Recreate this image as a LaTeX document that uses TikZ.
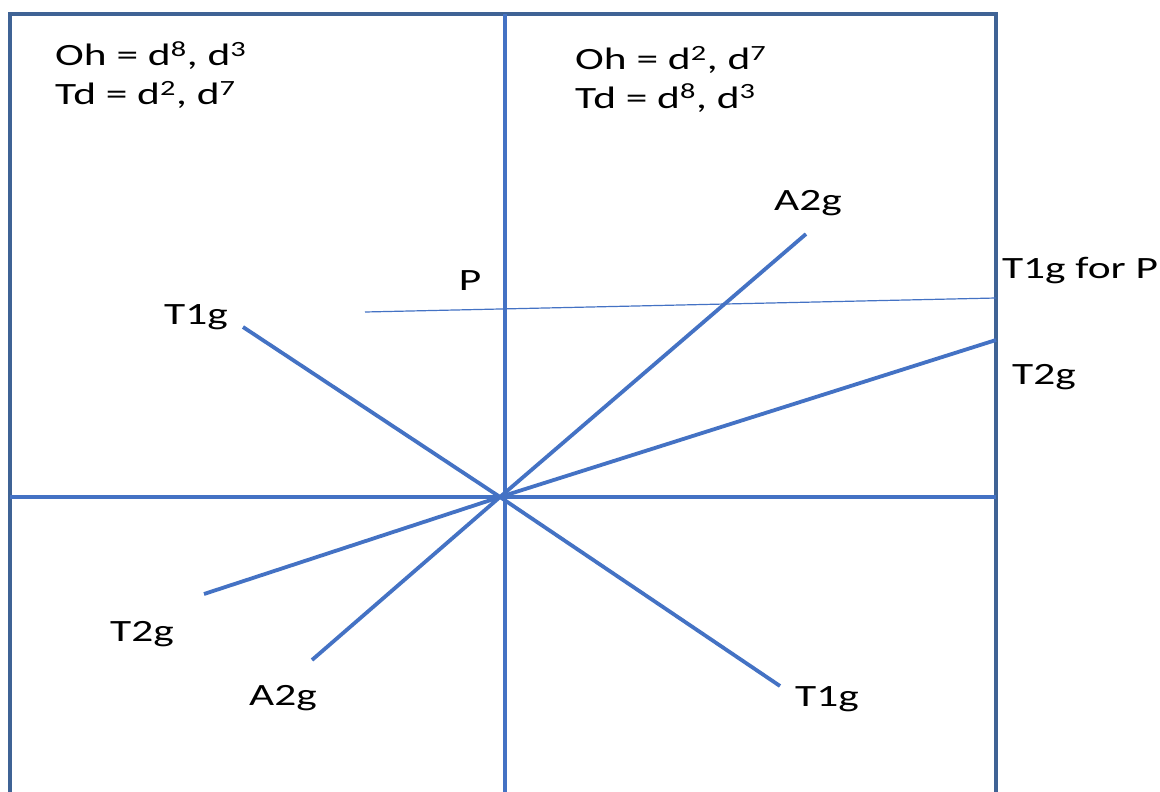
\documentclass[tikz,border=0pt]{standalone}
\usepackage{fontspec}
\setmainfont{Carlito}
\newcommand{\wide}[1]{\scalebox{1.4}[1]{#1}}
\begin{document}
\begin{tikzpicture}[x=1pt,y=-1pt,
  frame/.style={draw=framecol,line width=3.2pt},
  axis/.style={draw=linecol,line width=4.5pt},
  vaxis/.style={draw=linecol,line width=3.2pt},
  level/.style={draw=linecol,line width=3.8pt},
  thin/.style={draw=linecol,line width=1.2pt},
  lab/.style={font=\fontsize{31}{36}\selectfont,inner sep=0pt,anchor=base},
  hdr/.style={font=\fontsize{31}{36}\selectfont,inner sep=0pt,anchor=base west}]
\definecolor{linecol}{HTML}{4472C4}
\definecolor{framecol}{HTML}{3F6395}
\useasboundingbox[fill=white] (0,0) rectangle (1160,792);
% frame
\coordinate (tl) at (10,14);
\coordinate (tr) at (996,14);
\coordinate (bl) at (10,792);
\coordinate (br) at (996,792);
\coordinate (tm) at (505,14);
\coordinate (bm) at (505,792);
\coordinate (ml) at (10,497);
\coordinate (mr) at (996,497);
\coordinate (o) at (500,497);
\draw[frame] (bl) -- (tl) -- (tr) -- (br);
\draw[vaxis] (tm) -- (bm);
\draw[axis] (ml) -- (mr);
% level lines
\coordinate (t1a) at (243,327);
\coordinate (t1b) at (780,686);
\coordinate (a2a) at (806,234);
\coordinate (a2b) at (312,660);
\coordinate (t2a) at (996,340);
\coordinate (t2b) at (204,594);
\coordinate (pa) at (365,312);
\coordinate (pb) at (996,298);
\draw[level] (t1a) -- (o) -- (t1b);
\draw[level] (a2a) -- (o) -- (a2b);
\draw[level] (t2a) -- (o) -- (t2b);
\draw[thin] (pa) -- (pb);
% headers
\node[hdr] (h1a) at (55,66) {\wide{Oh = d\textsuperscript{8}, d\textsuperscript{3}}};
\node[hdr] (h1b) at (55,105) {\wide{Td = d\textsuperscript{2}, d\textsuperscript{7}}};
\node[hdr] (h2a) at (575,70) {\wide{Oh = d\textsuperscript{2}, d\textsuperscript{7}}};
\node[hdr] (h2b) at (575,108) {\wide{Td = d\textsuperscript{8}, d\textsuperscript{3}}};
% labels
\node[lab] (l1) at (196,324) {\wide{T1g}};
\node[lab] (l2) at (470,290) {\wide{P}};
\node[lab] (l3) at (808,210) {\wide{A2g}};
\node[lab] (l4) at (1080,278) {\wide{T1g for P}};
\node[lab] (l5) at (1044,384) {\wide{T2g}};
\node[lab] (l6) at (142,641) {\wide{T2g}};
\node[lab] (l7) at (283,705) {\wide{A2g}};
\node[lab] (l8) at (827,706) {\wide{T1g}};
\end{tikzpicture}
\end{document}
